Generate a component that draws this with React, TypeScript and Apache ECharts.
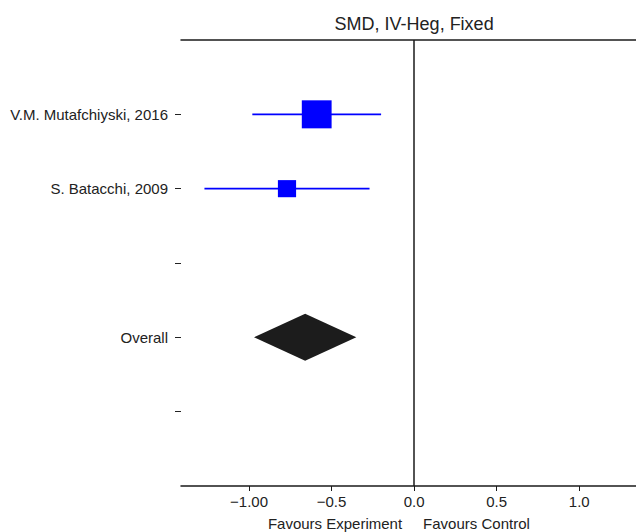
import React, { useEffect, useRef } from "react";
import * as echarts from "echarts";

// Study rows (top to bottom); blank entries are spacer rows
const rowLabels = ["V.M. Mutafchiyski, 2016", "S. Batacchi, 2009", "", "Overall", ""];

// Individual studies: standardised mean difference with 95% CI and weight (%)
const studyRows = [1, 2];
const studyEffects = [-0.59, -0.77];
const studyLower = [-0.98, -1.27];
const studyUpper = [-0.2, -0.27];
const studyWeights = [62.1, 37.9];

// Pooled fixed-effect estimate
const overallRow = 4;
const overallEffect = -0.66;
const overallLower = -0.97;
const overallUpper = -0.35;

// X axis ticks and their printed labels
const xTicks = [-1, -0.5, 0, 0.5, 1];
const xTickLabels = ["\u22121.00", "\u22120.5", "0.0", "0.5", "1.0"];

const titleText = "SMD, IV-Heg, Fixed";
const leftNote = "Favours Experiment";
const rightNote = "Favours Control";

const FONT = "Liberation Sans, Arial, sans-serif";

export default function App() {
  const ref = useRef<HTMLDivElement>(null);

  useEffect(() => {
    if (!ref.current) return;
    const chart = echarts.init(ref.current, null, { renderer: "svg" });

    const studyData = studyRows.map((r, i) => [
      studyEffects[i],
      r,
      studyLower[i],
      studyUpper[i],
      studyWeights[i],
    ]);

    const xRange = { min: -1.412, max: 1.344 };

    chart.setOption({
      animation: false,
      backgroundColor: "#ffffff",
      textStyle: { fontFamily: FONT },
      grid: { left: 181, top: 40, right: 0, bottom: 46, containLabel: false },
      xAxis: [
        {
          type: "value",
          position: "bottom",
          ...xRange,
          splitLine: { show: false },
          axisLine: { show: true, onZero: false, lineStyle: { color: "#1a1a1a", width: 1.5 } },
          axisTick: {
            show: true,
            length: 5,
            customValues: xTicks,
            lineStyle: { color: "#1a1a1a", width: 1 },
          },
          axisLabel: {
            customValues: xTicks,
            margin: 8,
            fontSize: 15,
            color: "#222",
            fontFamily: FONT,
            formatter: (v: number) => {
              const i = xTicks.findIndex((t) => Math.abs(t - v) < 1e-9);
              return i >= 0 ? xTickLabels[i] : "";
            },
          },
        },
        {
          type: "value",
          position: "top",
          ...xRange,
          splitLine: { show: false },
          axisLine: { show: true, onZero: false, lineStyle: { color: "#1a1a1a", width: 1.5 } },
          axisTick: { show: false },
          axisLabel: { show: false },
        },
      ],
      yAxis: {
        type: "value",
        inverse: true,
        min: 0,
        max: 6,
        splitLine: { show: false },
        axisLine: { show: false, onZero: false },
        axisTick: {
          show: true,
          length: 6,
          customValues: [1, 2, 3, 4, 5],
          lineStyle: { color: "#222", width: 1 },
        },
        axisLabel: {
          customValues: [1, 2, 3, 4, 5],
          margin: 13,
          fontSize: 15,
          color: "#222",
          fontFamily: FONT,
          formatter: (v: number) => rowLabels[Math.round(v) - 1] ?? "",
        },
      },
      series: [
        {
          type: "custom",
          name: "studies",
          xAxisIndex: 0,
          data: studyData,
          renderItem: (params: any, api: any) => {
            const est = api.value(0);
            const row = api.value(1);
            const lo = api.value(2);
            const hi = api.value(3);
            const w = api.value(4);
            const c = api.coord([est, row]);
            const a = api.coord([lo, row]);
            const b = api.coord([hi, row]);
            const side = w * 0.48;
            return {
              type: "group",
              children: [
                {
                  type: "line",
                  shape: { x1: a[0], y1: a[1], x2: b[0], y2: b[1] },
                  style: { stroke: "#0000ff", lineWidth: 1.8 },
                },
                {
                  type: "rect",
                  shape: { x: c[0] - side / 2, y: c[1] - side * 0.47, width: side, height: side * 0.94 },
                  style: { fill: "#0000ff" },
                },
              ],
            };
          },
          markLine: {
            silent: true,
            symbol: ["none", "none"],
            label: { show: false },
            lineStyle: { color: "#1a1a1a", width: 1.5, type: "solid" },
            data: [{ xAxis: 0 }],
          },
        },
        {
          type: "custom",
          name: "overall",
          xAxisIndex: 0,
          data: [[overallEffect, overallRow, overallLower, overallUpper]],
          renderItem: (params: any, api: any) => {
            const est = api.value(0);
            const row = api.value(1);
            const lo = api.coord([api.value(2), row]);
            const hi = api.coord([api.value(3), row]);
            const c = api.coord([est, row]);
            const half = 23.5;
            return {
              type: "polygon",
              shape: {
                points: [
                  [lo[0], c[1]],
                  [c[0], c[1] - half],
                  [hi[0], c[1]],
                  [c[0], c[1] + half],
                ],
              },
              style: { fill: "#1c1c1c" },
            };
          },
        },
      ],
    });

    // Heading above the plot and direction notes under the axis, placed around zero
    const zeroX = chart.convertToPixel({ xAxisIndex: 0 }, 0) as number;
    chart.setOption({
      graphic: [
        {
          type: "text",
          x: zeroX,
          y: 24,
          style: {
            text: titleText,
            align: "center",
            verticalAlign: "middle",
            fontSize: 18,
            fill: "#222",
            fontFamily: FONT,
          },
        },
        {
          type: "text",
          x: zeroX - 12,
          y: 523,
          style: {
            text: leftNote,
            align: "right",
            verticalAlign: "middle",
            fontSize: 15,
            fill: "#222",
            fontFamily: FONT,
          },
        },
        {
          type: "text",
          x: zeroX + 9,
          y: 523,
          style: {
            text: rightNote,
            align: "left",
            verticalAlign: "middle",
            fontSize: 15,
            fill: "#222",
            fontFamily: FONT,
          },
        },
      ],
    });

    return () => chart.dispose();
  }, []);

  return (
    <div
      ref={ref}
      style={{ position: "fixed", left: 0, top: 0, width: 636, height: 532 }}
    />
  );
}
